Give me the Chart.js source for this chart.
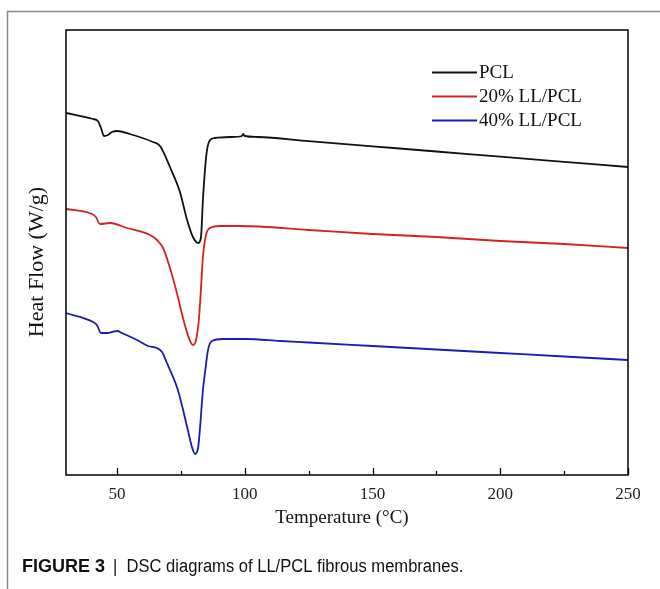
<!DOCTYPE html>
<html><head><meta charset="utf-8">
<script src="https://cdn.jsdelivr.net/npm/chart.js@4.4.1/dist/chart.umd.min.js"></script>
<style>html,body{margin:0;padding:0;background:#fff;} canvas{display:block;}</style>
</head><body><canvas id="c" width="660" height="589"></canvas>
<script>
// Temperature (°C) and heat flow (arbitrary, offset units) per series
const pclT  = [30,40.6,42.5,43.7,44.9,46.4,48,50,55,64,66.8,70.7,74.6,77.4,79.7,81.7,82.8,83.6,84.4,85.2,86.4,88.3,94.2,98.9,99.3,100,105,125,150,175,200,225,250];
const pclHF = [3.62,3.56,3.54,3.47,3.39,3.40,3.43,3.44,3.41,3.33,3.29,3.08,2.83,2.55,2.38,2.32,2.37,2.75,3.05,3.25,3.35,3.37,3.38,3.39,3.41,3.39,3.38,3.339,3.287,3.235,3.184,3.132,3.08];
const ll20T  = [30,40.2,41.7,43.3,47.2,53.9,62.9,65.6,68,70.7,73.4,75.8,78.1,79.7,80.9,82,82.8,83.6,84.8,86.4,90.3,98,125,150,175,200,225,250];
const ll20HF = [2.66,2.61,2.58,2.51,2.52,2.47,2.40,2.35,2.27,2.07,1.82,1.57,1.37,1.30,1.35,1.55,1.85,2.18,2.40,2.47,2.49,2.49,2.45,2.41,2.38,2.34,2.31,2.27];
const ll40T  = [30,40.6,42.1,43.7,46.4,48,50,51.9,57.8,62.1,65.6,67.6,69.5,73.8,77.7,79.3,80.5,81.7,82.4,83.6,84.4,85.6,87.1,91.4,100.8,113.8,125,150,175,200,225,250];
const ll40HF = [1.62,1.53,1.50,1.42,1.42,1.43,1.44,1.42,1.35,1.29,1.27,1.23,1.12,0.85,0.45,0.28,0.21,0.27,0.45,0.85,1.02,1.25,1.34,1.36,1.36,1.34,1.325,1.29,1.255,1.22,1.185,1.15];
const seriesNames = ['PCL','20% LL/PCL','40% LL/PCL'];
const xTicks = [50,100,150,200,250];
const xMinorTicks = [75,125,175,225];
const xTitle = 'Temperature (\u00B0C)';
const yTitle = 'Heat Flow (W/g)';
const captionBold = 'FIGURE 3';
const captionText = '|  DSC diagrams of LL/PCL fibrous membranes.';

const colors = ['#111111','#d42222','#1c1cae'];
const toXY = (t, v) => t.map((x, i) => ({x, y: v[i]}));

const deco = {
  id: 'deco',
  afterDraw(chart) {
    const ctx = chart.ctx, a = chart.chartArea, xs = chart.scales.x;
    ctx.save();
    // outer figure frame
    ctx.strokeStyle = '#8a8a8a'; ctx.lineWidth = 1.5;
    ctx.beginPath(); ctx.moveTo(7.5, 589); ctx.lineTo(7.5, 11.5); ctx.lineTo(660, 11.5); ctx.stroke();
    // plot box
    ctx.strokeStyle = '#000'; ctx.lineWidth = 1.5;
    ctx.strokeRect(a.left, a.top, a.right - a.left, a.bottom - a.top);
    // ticks inward
    ctx.lineWidth = 1.3;
    ctx.beginPath();
    xTicks.forEach(v => { const p = Math.round(xs.getPixelForValue(v)) + 0.5; ctx.moveTo(p, a.bottom); ctx.lineTo(p, a.bottom - 7); });
    xMinorTicks.forEach(v => { const p = Math.round(xs.getPixelForValue(v)) + 0.5; ctx.moveTo(p, a.bottom); ctx.lineTo(p, a.bottom - 4); });
    ctx.stroke();
    // legend
    ctx.font = '19px "Liberation Serif", "Times New Roman", serif';
    ctx.textBaseline = 'middle'; ctx.textAlign = 'left';
    seriesNames.forEach((n, i) => {
      const y = 72.5 + i * 24;
      ctx.strokeStyle = colors[i]; ctx.lineWidth = 2;
      ctx.beginPath(); ctx.moveTo(432, y); ctx.lineTo(477, y); ctx.stroke();
      ctx.fillStyle = '#111'; ctx.fillText(n, 479, y + 1);
    });
    // axis titles
    ctx.fillStyle = '#111';
    ctx.font = '19px "Liberation Serif", "Times New Roman", serif';
    ctx.textAlign = 'center';
    ctx.fillText(xTitle, (a.left + a.right) / 2 - 5, 518);
    ctx.save();
    ctx.translate(37, 262); ctx.rotate(-Math.PI / 2);
    ctx.font = '22px "Liberation Serif", "Times New Roman", serif';
    ctx.fillText(yTitle, 0, 0);
    ctx.restore();
    // caption
    ctx.textAlign = 'left';
    ctx.font = 'bold 18px "Liberation Sans Narrow", "Liberation Sans", sans-serif';
    ctx.fillStyle = '#111';
    ctx.fillText(captionBold, 22, 567);
    const w = ctx.measureText(captionBold).width;
    ctx.font = '18px "Liberation Sans Narrow", "Liberation Sans", sans-serif';
    ctx.save();
    ctx.translate(22 + w + 8, 567);
    ctx.scale(0.92, 1);
    ctx.fillText(captionText, 0, 0);
    ctx.restore();
    ctx.restore();
  }
};

new Chart(document.getElementById('c'), {
  type: 'line',
  data: {
    datasets: [
      {label: seriesNames[0], data: toXY(pclT, pclHF), borderColor: colors[0]},
      {label: seriesNames[1], data: toXY(ll20T, ll20HF), borderColor: colors[1]},
      {label: seriesNames[2], data: toXY(ll40T, ll40HF), borderColor: colors[2]}
    ].map(d => Object.assign(d, {borderWidth: 1.8, pointRadius: 0, fill: false, cubicInterpolationMode: 'monotone'}))
  },
  options: {
    responsive: false, animation: false, devicePixelRatio: 1,
    layout: {padding: {left: 66, right: 32, top: 30, bottom: 0}},
    plugins: {legend: {display: false}, tooltip: {enabled: false}},
    scales: {
      x: {
        type: 'linear', min: 30, max: 250,
        afterBuildTicks: s => { s.ticks = xTicks.map(v => ({value: v})); },
        afterFit: s => { s.height = 114; },
        grid: {display: false, drawTicks: false},
        border: {display: false},
        ticks: {padding: 9, color: '#222', font: {family: '"Liberation Serif", "Times New Roman", serif', size: 17}, maxRotation: 0, autoSkip: false}
      },
      y: {display: false, min: 0, max: 4.45}
    }
  },
  plugins: [deco]
});
</script></body></html>
